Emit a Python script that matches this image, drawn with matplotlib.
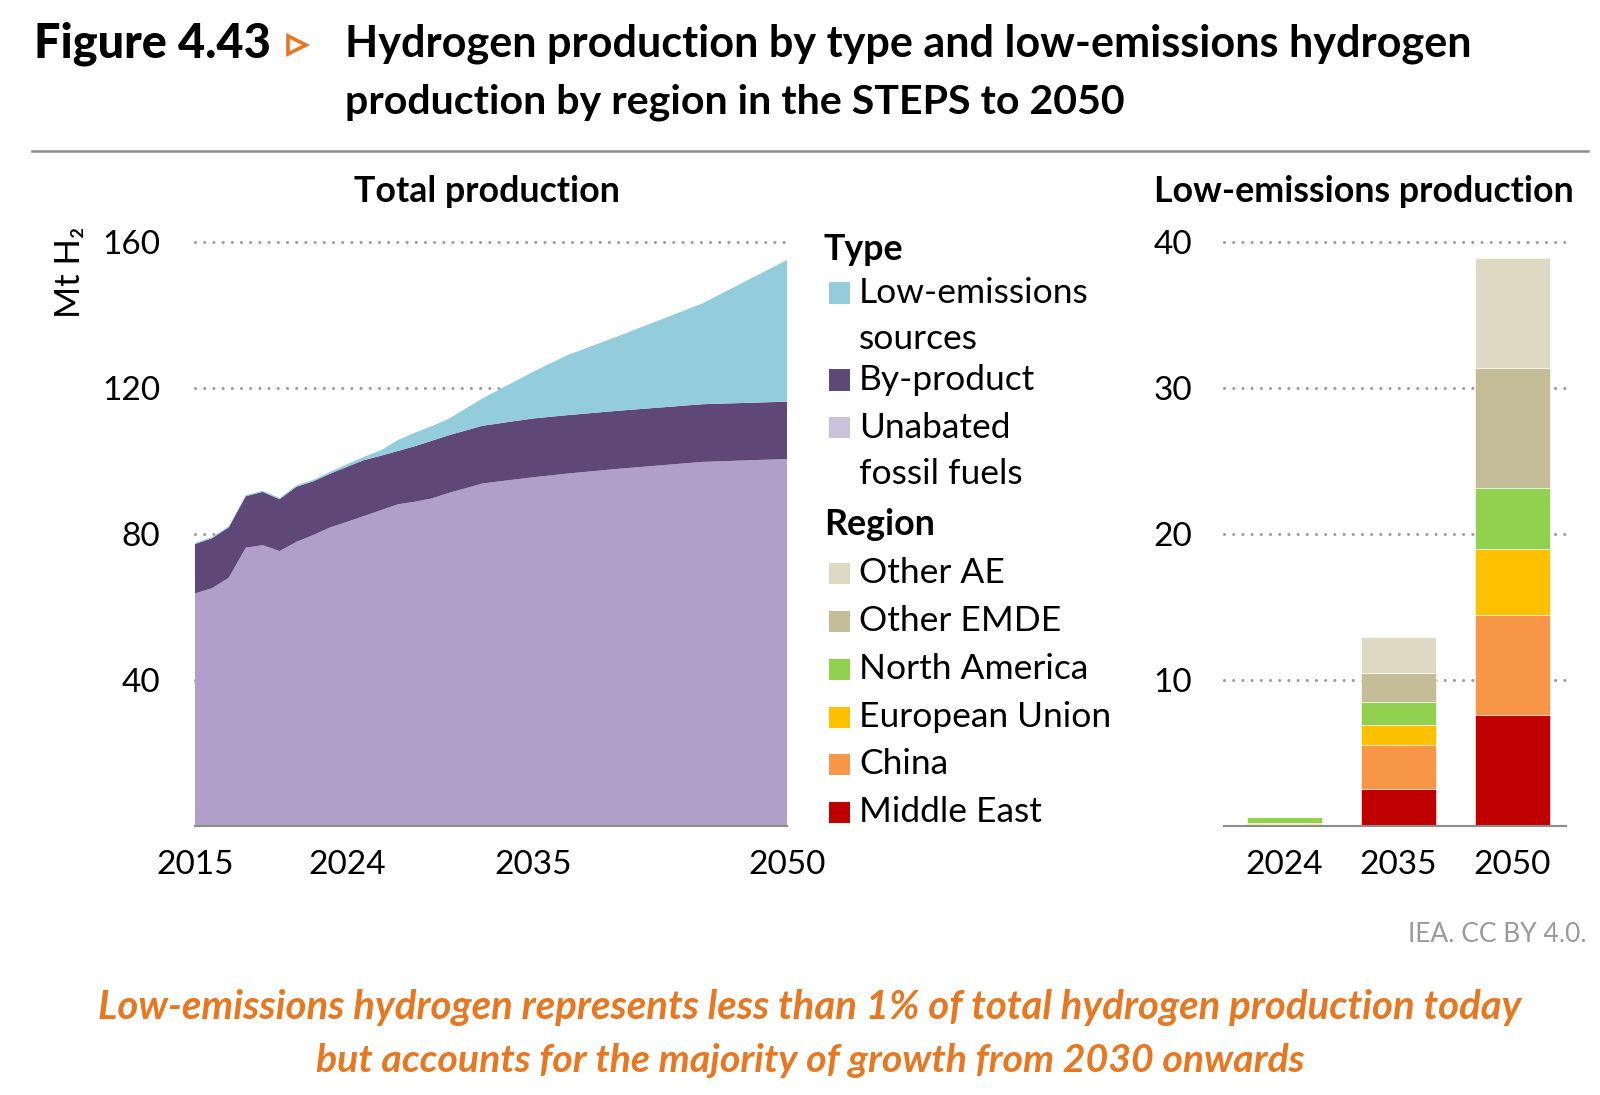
import matplotlib
matplotlib.use('Agg')
import matplotlib.pyplot as plt
from matplotlib.patches import Rectangle
from matplotlib.lines import Line2D

# ---------------- data ----------------
years = [2015, 2016, 2017, 2018, 2019, 2020, 2021, 2022, 2023, 2024, 2025,
         2026, 2027, 2028, 2029, 2030, 2032, 2035, 2037, 2040, 2045, 2050]
unabated = [63.7, 65.1, 68.0, 76.2, 76.9, 75.3, 77.8, 79.7, 81.8, 83.3, 84.9,
            86.5, 88.1, 88.8, 89.7, 91.2, 93.8, 95.5, 96.5, 97.8, 99.7, 100.5]
by_product = [13.5, 13.7, 13.8, 14.1, 14.6, 14.2, 15.1, 14.7, 14.7, 15.1, 15.3,
              14.9, 14.6, 15.2, 15.8, 15.8, 15.8, 16.1, 16.0, 15.9, 15.8, 15.7]
low_emissions = [0.3, 0.3, 0.3, 0.3, 0.3, 0.3, 0.4, 0.4, 0.5, 0.7, 0.9,
                 1.5, 3.0, 3.7, 4.0, 4.5, 7.5, 12.8, 16.4, 20.4, 27.6, 38.8]
year_ticks = [2015, 2024, 2035, 2050]
left_yticks = [40, 80, 120, 160]

bar_years = ['2024', '2035', '2050']
middle_east = [0.03, 2.54, 7.6]
china = [0.12, 3.0, 6.85]
european_union = [0.04, 1.35, 4.5]
north_america = [0.45, 1.57, 4.2]
other_emde = [0.0, 2.02, 8.2]
other_ae = [0.0, 2.48, 7.5]
right_yticks = [10, 20, 30, 40]

type_labels = ['Low-emissions\nsources', 'By-product', 'Unabated\nfossil fuels']
region_labels = ['Other AE', 'Other EMDE', 'North America',
                 'European Union', 'China', 'Middle East']

# ---------------- style ----------------
C_LOW = '#93CDDC'
C_BYP = '#5F4878'
C_UNA = '#B09FC8'
C_UNA_LEG = '#CCC1DB'
region_colors = {'Other AE': '#DDD9C3', 'Other EMDE': '#C4BD97',
                 'North America': '#92D050', 'European Union': '#FFC000',
                 'China': '#F79646', 'Middle East': '#C00000'}
GRID = '#9A9A9A'
ORANGE = '#E87722'
FONT = ['Lato', 'DejaVu Sans']
plt.rcParams['font.family'] = FONT

W, H = 1600, 1095
fig = plt.figure(figsize=(W / 100, H / 100), dpi=100)
fig.patch.set_facecolor('white')


def fx(x):
    return x / W


def fy(y):
    return 1 - y / H


renderer = fig.canvas.get_renderer()


def fit(t, width):
    bb = t.get_window_extent(renderer)
    t.set_fontsize(t.get_fontsize() * width / bb.width)
    return t


TICK_FS = 24

# ---------------- left: area chart ----------------
top, bot = 241.7, 826
ax1 = fig.add_axes([fx(195), fy(bot), (787 - 195) / W, (bot - top) / H])
ax1.stackplot(years, unabated, by_product, low_emissions,
              colors=[C_UNA, C_BYP, C_LOW], linewidth=0, zorder=2)
ax1.set_xlim(2015, 2050)
ax1.set_ylim(0, 160)
ax1.set_xticks(year_ticks)
ax1.set_yticks(left_yticks)
ax1.set_axisbelow(True)
for v in left_yticks:
    ax1.axhline(v, color=GRID, lw=2.2, ls=(0, (0.01, 3.0)),
                dash_capstyle='round', zorder=1, clip_on=False)
for s in ['top', 'right', 'left']:
    ax1.spines[s].set_visible(False)
ax1.spines['bottom'].set_color('#8C8C8C')
ax1.spines['bottom'].set_linewidth(1.5)
ax1.spines['bottom'].set_zorder(3)
ax1.tick_params(axis='both', length=0, labelsize=TICK_FS)
ax1.tick_params(axis='y', pad=25)
ax1.tick_params(axis='x', pad=17)
ax1.set_facecolor('none')

# ---------------- right: stacked bars ----------------
ax2 = fig.add_axes([fx(1224), fy(bot), (1566 - 1224) / W, (bot - top) / H])
xs = range(len(bar_years))
bottoms = [0.0] * len(bar_years)
for name, vals in [('Middle East', middle_east), ('China', china),
                   ('European Union', european_union),
                   ('North America', north_america),
                   ('Other EMDE', other_emde), ('Other AE', other_ae)]:
    ax2.bar(xs, vals, width=0.66, bottom=bottoms, color=region_colors[name],
            edgecolor='white', linewidth=0.4, zorder=2)
    bottoms = [b + v for b, v in zip(bottoms, vals)]
ax2.set_xlim(-0.53, 2.47)
ax2.set_ylim(0, 40)
ax2.set_xticks(list(xs))
ax2.set_xticklabels(bar_years)
ax2.set_yticks(right_yticks)
for v in right_yticks:
    ax2.axhline(v, color=GRID, lw=2.2, ls=(0, (0.01, 3.0)),
                dash_capstyle='round', zorder=1, clip_on=False)
for s in ['top', 'right', 'left']:
    ax2.spines[s].set_visible(False)
ax2.spines['bottom'].set_color('#8C8C8C')
ax2.spines['bottom'].set_linewidth(1.5)
ax2.spines['bottom'].set_zorder(3)
ax2.tick_params(axis='both', length=0, labelsize=TICK_FS)
ax2.tick_params(axis='y', pad=23)
ax2.tick_params(axis='x', pad=17)
ax2.set_facecolor('none')

# y-axis unit label
fig.text(fx(70), fy(272), 'Mt H\u2082', rotation=90, ha='center', va='center',
         fontsize=25, family=FONT)

# ---------------- headings ----------------
t = fig.text(fx(34), fy(44), 'Figure 4.43', ha='left', va='center',
             fontsize=28, fontweight='black', family=['Lato', 'DejaVu Sans'])
fit(t, 237)
fig.lines.append(Line2D([fx(297)], [fy(45)], marker='>', markersize=13,
                        markerfacecolor='white', markeredgecolor=ORANGE,
                        markeredgewidth=2.6, transform=fig.transFigure))
t1 = fig.text(fx(345), fy(44),
              'Hydrogen production by type and low-emissions hydrogen',
              ha='left', va='center', fontsize=28, fontweight='bold')
fit(t1, 1125)
t2 = fig.text(fx(345), fy(102), 'production by region in the STEPS to 2050',
              ha='left', va='center', fontsize=t1.get_fontsize(),
              fontweight='bold')
fit(t2, 780)
fig.lines.append(Line2D([fx(32), fx(1588)], [fy(151), fy(151)],
                        color='#8C8C8C', lw=1.8, transform=fig.transFigure))

tp = fig.text(fx(487), fy(191), 'Total production', ha='center',
              va='center', fontsize=22, fontweight='bold')
fit(tp, 265)
tl = fig.text(fx(1364), fy(191), 'Low-emissions production', ha='center',
              va='center', fontsize=tp.get_fontsize(), fontweight='bold')

# ---------------- legend ----------------
LEG_FS = 25.5
sq = 21


def square(xc, yc, color):
    fig.patches.append(Rectangle((fx(829), fy(yc + sq / 2)), sq / W, sq / H,
                                 facecolor=color, edgecolor='none',
                                 transform=fig.transFigure))


fig.text(fx(824), fy(250), 'Type', ha='left', va='center',
         fontsize=tp.get_fontsize(), fontweight='bold')
type_colors = [C_LOW, C_BYP, C_UNA_LEG]
type_y = [293, 380, 428]
for lab, col, yy in zip(type_labels, type_colors, type_y):
    square(829, yy, col)
    lines = lab.split('\n')
    for k, ln in enumerate(lines):
        fig.text(fx(859), fy(yy + k * 46), ln, ha='left', va='center',
                 fontsize=LEG_FS)
fig.text(fx(824), fy(525), 'Region', ha='left', va='center',
         fontsize=tp.get_fontsize(), fontweight='bold')
reg_y = [573, 621, 669, 717, 764, 812]
for lab, yy in zip(region_labels, reg_y):
    square(829, yy, region_colors[lab])
    fig.text(fx(859), fy(yy), lab, ha='left', va='center', fontsize=LEG_FS)

# ---------------- footer ----------------
fig.text(fx(1587), fy(935), 'IEA. CC BY 4.0.', ha='right', va='center',
         fontsize=19, color='#9A9A9A')
c1 = fig.text(fx(810), fy(1007),
              'Low-emissions hydrogen represents less than 1% of total '
              'hydrogen production today', ha='center', va='center',
              fontsize=24, fontweight='bold', style='italic', color=ORANGE)
fit(c1, 1426)
c2 = fig.text(fx(810), fy(1060),
              'but accounts for the majority of growth from 2030 onwards',
              ha='center', va='center', fontsize=c1.get_fontsize(),
              fontweight='bold', style='italic', color=ORANGE)
fit(c2, 986)

fig.savefig('out.png', dpi=100, facecolor='white')
